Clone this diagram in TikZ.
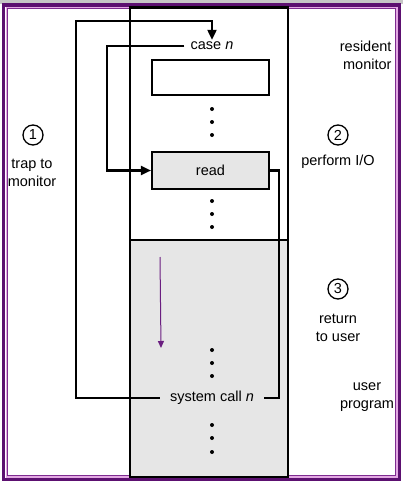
\documentclass[tikz,border=0pt]{standalone}
\usepackage{fontspec}
\setmainfont{Liberation Sans}
\usepackage{xcolor}
\usepackage{tikz}
\usetikzlibrary{
  arrows.meta,
  positioning
}

\definecolor{framedark}{HTML}{5C1070}
\definecolor{framepink}{HTML}{E3A8E3}
\definecolor{framemid}{HTML}{7E2B90}
\definecolor{cellgray}{HTML}{E6E6E6}
\definecolor{flowpurple}{HTML}{6A1E80}

\begin{document}
\begin{tikzpicture}[
        x=1pt,y=-1pt,
        wire/.style={
            line width=2.1pt
          },
        memcell/.style={
            draw,
            line width=2.1pt,
            minimum width=117pt,
            inner sep=0pt
          },
        lbl/.style={
            font=\fontsize{14.5}{18}\selectfont,
            align=center,
            inner ysep=2pt
          },
        numcircle/.style={
            circle,
            draw,
            line width=1.3pt,
            minimum size=20pt,
            inner sep=0pt,
            font=\fontsize{14.5}{16}\selectfont
          },
        flow/.style={
            draw=flowpurple,
            line width=1pt,
            -{Triangle[length=7pt,width=6pt]}
          },
        tip/.style={
            -{Triangle[length=10pt,width=9pt]}
          }
      ]
      \useasboundingbox (0,0) rectangle (403,482);

      % 枠
      \fill[gray!45] (0,0) rectangle (403,4);
      \draw[framedark,line width=3.5pt] (3.5,5.2) rectangle (399.5,479.5);
      \draw[framepink,line width=1.6pt] (6.3,7.5) rectangle (396.8,477);
      \draw[framemid,line width=1.1pt] (7.8,8.6) rectangle (395.3,475.8);

      % メモリの列
      \fill[cellgray] (130,240) rectangle (288,477);
      \draw[wire] (130,7.5) rectangle (288,477);
      \draw[wire] (130,240) -- (288,240);

      % セルとテキスト
      \node[lbl,inner xsep=6pt] (casen) at (212,46) {case \textit{n}};
      \node[memcell,minimum height=35pt] (handler) at (210.5,77.5) {};
      \node[memcell,minimum height=37pt,fill=cellgray,lbl] (read) at (210.5,170.5) {read};
      \node[lbl,inner xsep=10pt] (syscall) at (212,398) {system call \textit{n}};

      % 点
      \foreach \y in {109,122,135,201,214,227,350,363,376,425,438,452}
        \fill (212,\y) circle (2pt);

      % 経路
      \coordinate (trap bend) at (76,21);
      \coordinate (io bend) at (107,100);
      \coordinate (ret bend) at (279,300);
      \draw[wire,tip] (syscall.west) -| (trap bend) -| (casen.north);
      \draw[wire,tip] (casen.west) -| (io bend) |- (read.west);
      \draw[wire] (read.east) -| (ret bend) |- (syscall.east);

      % ユーザプログラムの流れ
      \coordinate (flow start) at (160,257);
      \coordinate (flow end) at (161,348);
      \draw[flow] (flow start) -- (flow end);

      % 右と左のラベル
      \node[lbl,align=right,anchor=east] (resident) at (395,55) {resident\\monitor};
      \node[numcircle] (step one) at (33,135) {1};
      \node[lbl] (trap) at (32,172.5) {trap to\\monitor};
      \node[numcircle] (step two) at (338,135) {2};
      \node[lbl] (perform) at (338,162) {perform I/O};
      \node[numcircle] (step three) at (338,289) {3};
      \node[lbl] (return) at (338,328) {return\\to user};
      \node[lbl] (userprog) at (367,397) {user\\program};

    \end{tikzpicture}
\end{document}
